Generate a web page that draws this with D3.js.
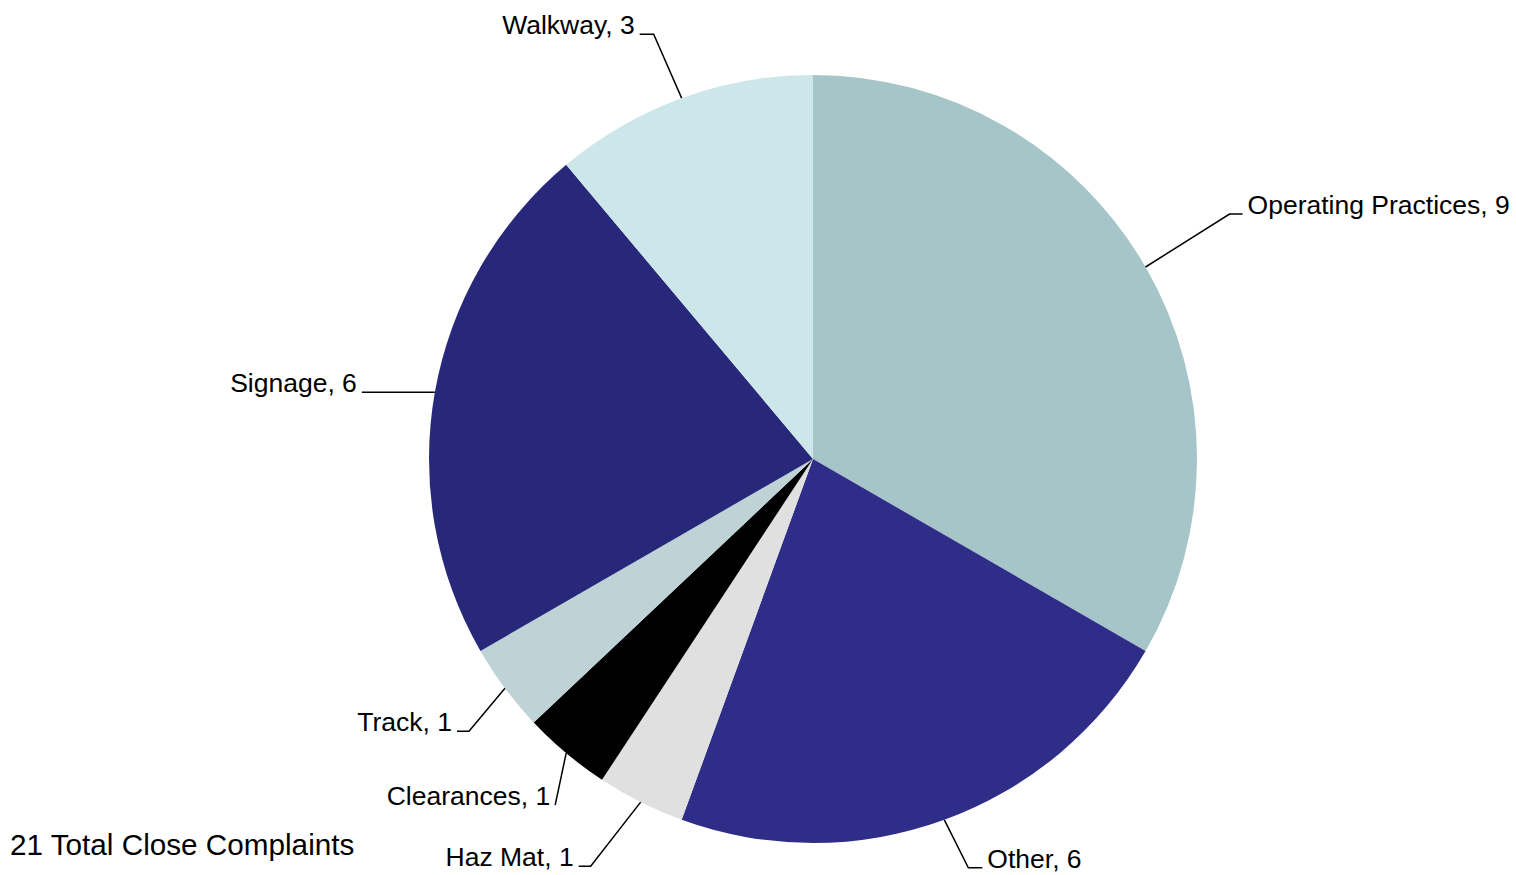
<!DOCTYPE html>
<html>
<head>
<meta charset="utf-8">
<script src="https://cdn.jsdelivr.net/npm/d3@7"></script>
<style>
  html, body { margin: 0; padding: 0; background: #fff; }
  text { font-family: "Liberation Sans", Arial, sans-serif; fill: #000; }
</style>
</head>
<body>
<div id="chart"></div>
<script>
// data, clockwise from 12 o'clock
var categories = ["Operating Practices", "Other", "Haz Mat", "Clearances", "Track", "Signage", "Walkway"];
var values = [9, 6, 1, 1, 1, 6, 3];
var colors = ["#a5c5c9", "#2e2d87", "#e0e0e0", "#000000", "#bfd3d6", "#28287a", "#cde6ea"];
var totalLabel = "21 Total Close Complaints";

// leader line layout: elbow offset from slice edge, then short horizontal tail
var elbowOffsets = [[84, -53], [24, 48], [-50, 64], [-11, 52], [-36, 43], [-73, 0], [-28, -64]];
var tailLengths = [13, 14, 12, 0, 12, 0, 14];

var width = 1516, height = 875;
var cx = 813, cy = 459, radius = 384;

var svg = d3.select("#chart").append("svg")
  .attr("width", width)
  .attr("height", height);

var data = categories.map(function(c, i) {
  return { name: c, value: values[i], color: colors[i], offset: elbowOffsets[i], tail: tailLengths[i] };
});

var pie = d3.pie().sort(null).value(function(d) { return d.value; });
var arc = d3.arc().innerRadius(0).outerRadius(radius);
var edgeArc = d3.arc().innerRadius(radius).outerRadius(radius);

var g = svg.append("g")
  .attr("transform", "translate(" + cx + "," + cy + ")");

var arcs = pie(data);

g.selectAll("path.slice")
  .data(arcs)
  .enter().append("path")
  .attr("class", "slice")
  .attr("d", arc)
  .attr("fill", function(d) { return d.data.color; });

// labels with leader lines
arcs.forEach(function(d) {
  var p0 = edgeArc.centroid(d);
  var p1 = [p0[0] + d.data.offset[0], p0[1] + d.data.offset[1]];
  var right = p1[0] > p0[0] || (d.startAngle + d.endAngle) / 2 < Math.PI;
  var dir = right ? 1 : -1;
  var p2 = [p1[0] + dir * d.data.tail, p1[1]];

  g.append("polyline")
    .attr("points", [p0, p1, p2].map(function(p) { return p.join(","); }).join(" "))
    .attr("fill", "none")
    .attr("stroke", "#000")
    .attr("stroke-width", 1.5);

  g.append("text")
    .attr("x", p2[0] + dir * 5)
    .attr("y", p2[1])
    .attr("text-anchor", right ? "start" : "end")
    .style("font-size", "26.5px")
    .text(d.data.name + ", " + d.data.value);
});

svg.append("text")
  .attr("x", 10)
  .attr("y", 855)
  .style("font-size", "29.7px")
  .text(totalLabel);
</script>
</body>
</html>
